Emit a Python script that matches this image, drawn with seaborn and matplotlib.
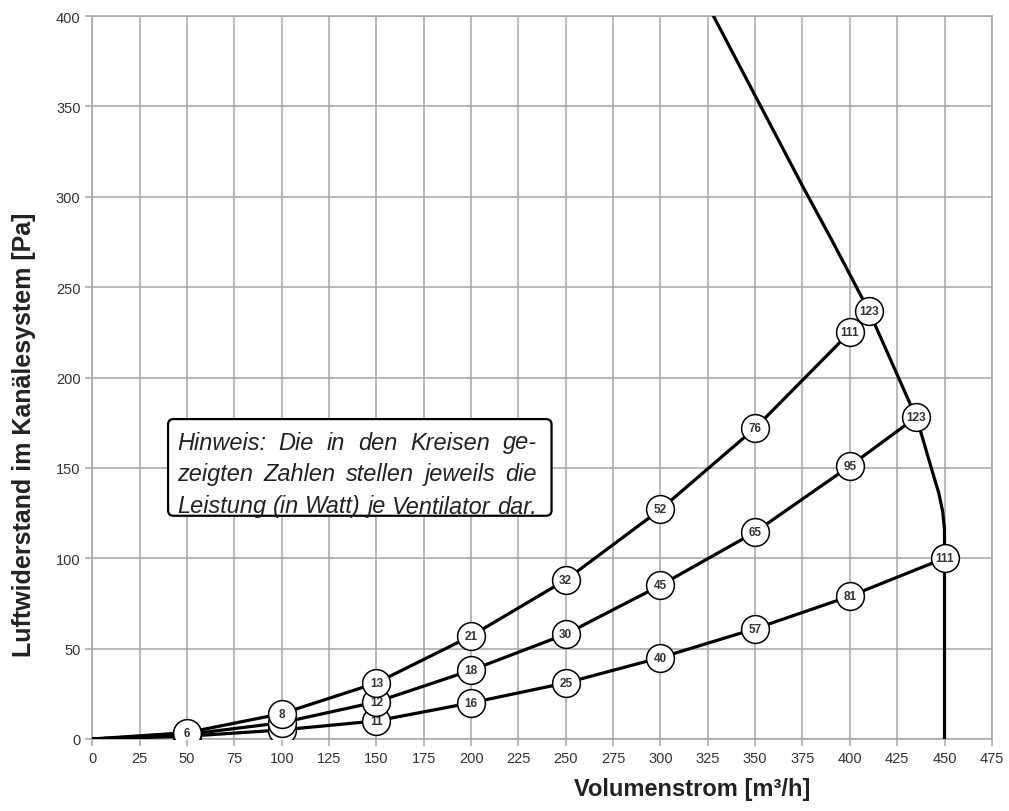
import matplotlib
matplotlib.use('Agg')
import matplotlib.pyplot as plt
import matplotlib.patches as mpatches
from matplotlib import font_manager
import pandas as pd
import seaborn as sns

# Kennlinien: Volumenstrom [m3/h], Luftwiderstand [Pa], Leistung [W]
curve_a_x = [0, 50, 100, 150, 200, 250, 300, 350, 400, 410]
curve_a_y = [0, 3.5, 14, 31, 57, 88, 127, 172, 225, 237]
curve_a_w = ['', '6', '8', '13', '21', '32', '52', '76', '111', '123']

curve_b_x = [0, 50, 100, 150, 200, 250, 300, 350, 400, 435]
curve_b_y = [0, 2.5, 9, 20.5, 38, 58, 85, 114.5, 151, 178]
curve_b_w = ['', '', '', '12', '18', '30', '45', '65', '95', '123']

curve_c_x = [0, 50, 100, 150, 200, 250, 300, 350, 400, 450]
curve_c_y = [0, 1.5, 5, 10, 20, 31, 45, 61, 79, 100]
curve_c_w = ['', '', '', '11', '16', '25', '40', '57', '81', '111']

# Grenzkennlinie (max. Drehzahl)
max_x = [328, 350, 375, 390, 410, 435, 438, 443, 447, 449, 450, 450]
max_y = [400, 356, 306, 277, 237, 178, 168, 150, 136, 126, 116, 0]

x_ticks = list(range(0, 476, 25))
y_ticks = list(range(0, 401, 50))

note_lines = ['Hinweis: Die in den Kreisen ge-',
              'zeigten Zahlen stellen jeweils die',
              'Leistung (in Watt) je Ventilator dar.']

sns.set_theme(style='ticks')
plt.rcParams['font.family'] = ['Liberation Sans', 'DejaVu Sans']

fig = plt.figure(figsize=(10.09, 8.12), dpi=100)
ax = fig.add_axes([0.0915, 0.0887, 0.983 - 0.0915, 0.979 - 0.0887])

grid_c = '#a6a6a6'
frames = []
for name, xs, ys in [('A', curve_a_x, curve_a_y), ('B', curve_b_x, curve_b_y),
                     ('C', curve_c_x, curve_c_y), ('max', max_x, max_y)]:
    frames.append(pd.DataFrame({'x': xs, 'y': ys, 'kurve': name}))
lines = pd.concat(frames, ignore_index=True)

sns.lineplot(data=lines, x='x', y='y', units='kurve', estimator=None, sort=False,
             color='black', linewidth=2.3, ax=ax, legend=False, zorder=3)

z = 5
for xs, ys, ws in [(curve_c_x, curve_c_y, curve_c_w),
                   (curve_b_x, curve_b_y, curve_b_w),
                   (curve_a_x, curve_a_y, curve_a_w)]:
    for x, y, w in zip(xs[1:], ys[1:], ws[1:]):
        ax.scatter([x], [y], s=400, marker='o', facecolor='white',
                   edgecolor='black', linewidth=1.1, zorder=z)
        if w:
            ax.text(x, y, w, ha='center', va='center', fontsize=8.5,
                    fontweight='bold', color='#333333', zorder=z + 0.5)
        z += 1

ax.set_xlim(0, 475)
ax.set_ylim(0, 400)
ax.set_xticks(x_ticks)
ax.set_yticks(y_ticks)
ax.grid(True, color=grid_c, linewidth=1.1)
ax.set_axisbelow(True)
for s in ax.spines.values():
    s.set_color(grid_c)
    s.set_linewidth(1.1)
ax.tick_params(axis='both', colors=grid_c, length=5, width=1.1,
               labelcolor='#333333', labelsize=10.5)

ax.set_xlabel('Volumenstrom [m³/h]', fontsize=17, fontweight='bold', color='#222222')
ax.xaxis.set_label_coords(0.667, -0.052)
narrow = 'Liberation Sans Narrow'
try:
    font_manager.findfont(narrow, fallback_to_default=False)
    ylab_family = narrow
    ylab_size = 21
except Exception:
    ylab_family = 'Liberation Sans'
    ylab_size = 18
ax.set_ylabel('Luftwiderstand im Kanälesystem [Pa]', fontsize=ylab_size,
              fontweight='bold', color='#222222', family=ylab_family)
ax.yaxis.set_label_coords(-0.063, 0.422)

# Hinweis-Box
box = mpatches.FancyBboxPatch((40, 123.5), 202.5, 53.5,
                              boxstyle='round,pad=0,rounding_size=3',
                              facecolor='white', edgecolor='black',
                              linewidth=1.6, zorder=8)
ax.add_patch(box)

fig.canvas.draw()
renderer = fig.canvas.get_renderer()
H = fig.bbox.height
x0_px, x1_px = 177.0, 537.0
line_y = [443.0, 475.0, 507.0]

probe = fig.text(0, 0, note_lines[2], fontsize=14, style='italic')
note_size = 14 * (x1_px - x0_px) / probe.get_window_extent(renderer).width
probe.remove()

for text, ypx in zip(note_lines, line_y):
    words = text.split(' ')
    objs = [fig.text(0, 0, w, fontsize=note_size, style='italic', color='#222222',
                     va='center', ha='left', zorder=10) for w in words]
    widths = [o.get_window_extent(renderer).width for o in objs]
    gap = (x1_px - x0_px - sum(widths)) / (len(words) - 1)
    pos = x0_px
    for o, wd in zip(objs, widths):
        o.set_position((pos / fig.bbox.width, 1 - ypx / H))
        pos += wd + gap

fig.savefig('out.png', dpi=100)
